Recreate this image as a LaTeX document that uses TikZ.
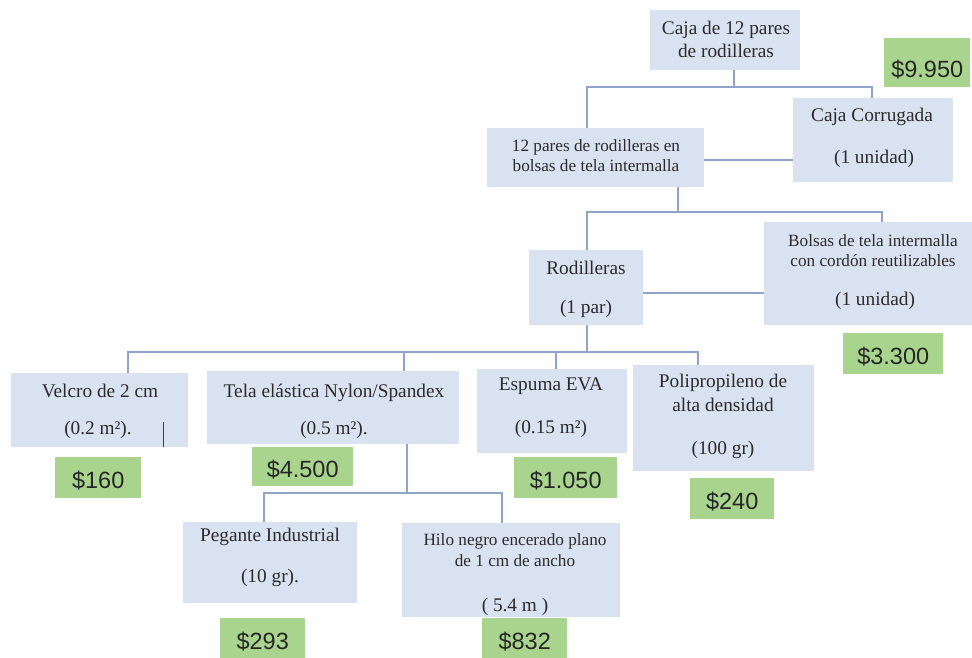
\documentclass[tikz,border=0pt]{standalone}
\usepackage{fontspec}
\setmainfont{Liberation Serif}
\newfontfamily\pricefont{Liberation Sans}
\definecolor{boxfill}{HTML}{D9E2F0}
\definecolor{pricefill}{HTML}{A9D48E}
\definecolor{linkcol}{HTML}{8EA4CB}
\definecolor{inkcol}{HTML}{2B2B2B}
\begin{document}
\begin{tikzpicture}[x=1pt,y=-1pt,
  box/.style={fill=boxfill,draw=none,inner sep=0pt,anchor=north west},
  price/.style={fill=pricefill,draw=none,inner sep=0pt,anchor=north west,
    text=black!85,font=\pricefont\fontsize{23.5}{26}\selectfont,
    text height=21pt,text depth=0pt},
  txt/.style={anchor=mid,inner sep=0pt,text=inkcol,font=\fontsize{19.3}{23}\selectfont},
  txts/.style={txt,font=\fontsize{17.2}{20}\selectfont},
  link/.style={draw=linkcol,line width=1.4pt}]
\useasboundingbox (0,0) rectangle (972,658);

% component boxes
\node[box,minimum width=150pt,minimum height=60pt] (top) at (650,10) {};
\node[box,minimum width=160pt,minimum height=84pt] (corr) at (793,98) {};
\node[box,minimum width=217pt,minimum height=59pt] (pares) at (487,128) {};
\node[box,minimum width=114pt,minimum height=75pt] (rod) at (529,250) {};
\node[box,minimum width=208pt,minimum height=103pt] (bols) at (764,222) {};
\node[box,minimum width=177pt,minimum height=74pt] (velc) at (11,373) {};
\node[box,minimum width=252pt,minimum height=73pt] (tela) at (207,371) {};
\node[box,minimum width=150pt,minimum height=84pt] (esp) at (477,369) {};
\node[box,minimum width=181pt,minimum height=106pt] (poli) at (633,365) {};
\node[box,minimum width=174pt,minimum height=81pt] (peg) at (183,522) {};
\node[box,minimum width=218pt,minimum height=94pt] (hilo) at (402,523) {};

% box texts
\node[txt] (top1) at (726,32) {Caja de 12 pares};
\node[txt] (top2) at (726,55) {de rodilleras};
\node[txt] (corr1) at (872,119) {Caja Corrugada};
\node[txt] (corr2) at (874,161) {(1 unidad)};
\node[txts] (pares1) at (596,149) {12 pares de rodilleras en};
\node[txts] (pares2) at (596,169) {bolsas de tela intermalla};
\node[txt] (rod1) at (586,272) {Rodilleras};
\node[txt] (rod2) at (586,311) {(1 par)};
\node[txts] (bols1) at (873,244) {Bolsas de tela intermalla};
\node[txts] (bols2) at (873,264) {con cordón reutilizables};
\node[txt] (bols3) at (875,303) {(1 unidad)};
\node[txt] (velc1) at (100,395) {Velcro de 2 cm};
\node[txt] (velc2) at (98,432) {(0.2 m²).};
\node[txt] (tela1) at (334,395) {Tela elástica Nylon/Spandex};
\node[txt] (tela2) at (334,432) {(0.5 m²).};
\node[txt] (esp1) at (551,388) {Espuma EVA};
\node[txt] (esp2) at (551,431) {(0.15 m²)};
\node[txt] (poli1) at (723,385) {Polipropileno de};
\node[txt] (poli2) at (723,409) {alta densidad};
\node[txt] (poli3) at (723,452) {(100 gr)};
\node[txt] (peg1) at (270,539) {Pegante Industrial};
\node[txt] (peg2) at (270,580) {(10 gr).};
\node[txts] (hilo1) at (515,543) {Hilo negro encerado plano};
\node[txts] (hilo2) at (515,564) {de 1 cm de ancho};
\node[txt] (hilo3) at (515,609) {( 5.4 m )};

% stray text-cursor stroke inside the Velcro box
\draw[black!75,line width=1pt] (velc.south west) ++(152,-25) coordinate (curA) -- ++(0,25) coordinate (curB);

% prices
\node[price,minimum width=86pt,minimum height=49pt,text height=30pt] (p9950) at (884,38) {\$9.950};
\node[price,minimum width=100pt,minimum height=41pt] (p3300) at (843,333) {\$3.300};
\node[price,minimum width=86pt,minimum height=41pt] (p160) at (55,457) {\$160};
\node[price,minimum width=101pt,minimum height=39pt] (p4500) at (252,447) {\$4.500};
\node[price,minimum width=103pt,minimum height=41pt] (p1050) at (514,457) {\$1.050};
\node[price,minimum width=84pt,minimum height=41pt] (p240) at (690,478) {\$240};
\node[price,minimum width=85pt,minimum height=41pt] (p293) at (220,618) {\$293};
\node[price,minimum width=85pt,minimum height=41pt] (p832) at (482,618) {\$832};

% junction points of the tree connectors
\coordinate (a0) at (734,87);
\coordinate (a1) at (587,87);
\coordinate (a2) at (872,87);
\coordinate (ah) at (0,160);
\coordinate (b0) at (678,212);
\coordinate (b1) at (587,212);
\coordinate (b2) at (882,212);
\coordinate (bh) at (0,293);
\coordinate (c0) at (587,352);
\coordinate (c1) at (128,352);
\coordinate (c2) at (404,352);
\coordinate (c3) at (556,352);
\coordinate (c4) at (698,352);
\coordinate (d0) at (407,493);
\coordinate (d1) at (264,493);
\coordinate (d2) at (502,493);

% connectors
\draw[link] (top.south -| a0) -- (a0);
\draw[link] (pares.north -| a1) -- (a1) -- (a2) -- (corr.north -| a2);
\draw[link] (pares.east |- ah) -- (corr.west |- ah);
\draw[link] (pares.south -| b0) -- (b0);
\draw[link] (rod.north -| b1) -- (b1) -- (b2) -- (bols.north -| b2);
\draw[link] (rod.east |- bh) -- (bols.west |- bh);
\draw[link] (rod.south -| c0) -- (c0);
\draw[link] (velc.north -| c1) -- (c1) -- (c4) -- (poli.north -| c4);
\draw[link] (c2) -- (tela.north -| c2);
\draw[link] (c3) -- (esp.north -| c3);
\draw[link] (tela.south -| d0) -- (d0);
\draw[link] (peg.north -| d1) -- (d1) -- (d2) -- (hilo.north -| d2);
\end{tikzpicture}
\end{document}
